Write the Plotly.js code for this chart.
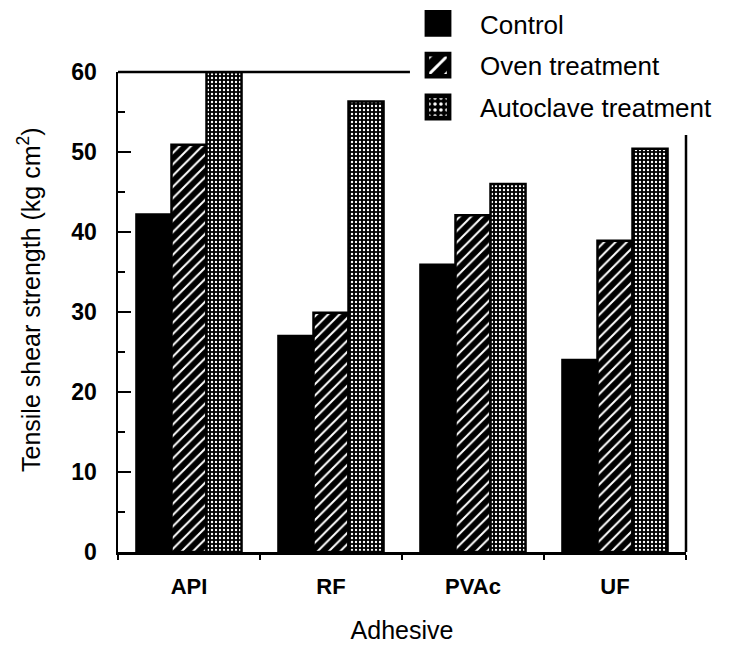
<!DOCTYPE html>
<html>
<head>
<meta charset="utf-8">
<script src="https://cdn.plot.ly/plotly-3.0.1.min.js"></script>
<style>html,body{margin:0;padding:0;background:#fff;}#chart{width:733px;height:648px;}</style>
</head>
<body>
<div id="chart"></div>
<script>
const categories = ["API", "RF", "PVAc", "UF"];
const seriesNames = ["Control", "Oven treatment", "Autoclave treatment"];
const control = [42.2, 27, 35.9, 24];
const oven = [50.9, 29.9, 42.1, 38.9];
const autoclave = [60, 56.3, 46, 50.4];
const yTicks = [0, 10, 20, 30, 40, 50, 60];
const xTitle = "Adhesive";
const yTitle = "Tensile shear strength (kg cm<sup>2</sup>)";

const FONT = "Liberation Sans, Arial, Helvetica, sans-serif";
const line = {color: "black", width: 2.5};

const traces = [
  {type: "bar", name: seriesNames[0], x: categories, y: control, legendgroup: "a",
   marker: {color: "black", line: line}},
  {type: "bar", name: seriesNames[1], x: categories, y: oven, legendgroup: "b",
   marker: {color: "black", line: line,
     pattern: {shape: "/", bgcolor: "black", fgcolor: "white", size: 8, solidity: 0.25, fillmode: "replace"}}},
  {type: "bar", name: seriesNames[2], x: categories, y: autoclave, legendgroup: "c",
   marker: {color: "black", line: line,
     pattern: {shape: ".", bgcolor: "black", fgcolor: "white", size: 4, solidity: 0.28, fillmode: "replace"}}}
];

const layout = {
  width: 733, height: 648,
  margin: {l: 118, r: 47, t: 72, b: 96, autoexpand: false},
  paper_bgcolor: "white", plot_bgcolor: "white",
  font: {family: FONT, color: "black"},
  barmode: "group", bargap: 0.26, bargroupgap: 0,
  showlegend: true,
  legend: {x: (440 - 118) / 568, y: 1.15, xanchor: "left", yanchor: "top", bgcolor: "rgba(0,0,0,0)",
           font: {family: FONT, size: 26, color: "black"}, tracegroupgap: 5, traceorder: "grouped"},
  xaxis: {
    type: "category", range: [-0.5, 3.5], fixedrange: true,
    showline: true, linecolor: "black", linewidth: 2.5, mirror: false,
    ticks: "outside", tickson: "boundaries", ticklen: 5, tickwidth: 2.5, tickcolor: "black",
    tickfont: {family: FONT, size: 22, color: "black", weight: "bold"},
    ticklabelstandoff: 13,
    showgrid: false, zeroline: false,
    title: {text: xTitle, font: {family: FONT, size: 25, color: "black"}, standoff: 24}
  },
  yaxis: {
    range: [0, 60], fixedrange: true, tickvals: yTicks, ticktext: yTicks.map(String),
    showline: true, linecolor: "black", linewidth: 2.5,
    ticks: "inside", ticklen: 13, tickwidth: 2.5, tickcolor: "black",
    minor: {dtick: 5, ticks: "inside", ticklen: 7, tickwidth: 2.5, tickcolor: "black", showgrid: false},
    tickfont: {family: FONT, size: 23, color: "black", weight: "bold"},
    ticklabelstandoff: 14,
    showgrid: false, zeroline: false
  },
  annotations: [
    {text: yTitle, xref: "paper", yref: "paper", x: (29 - 118) / 568, y: (552 - 300) / 480,
     xanchor: "center", yanchor: "middle", textangle: -90, showarrow: false,
     font: {family: FONT, size: 25, color: "black"}}
  ],
  shapes: [
    {type: "line", xref: "paper", yref: "paper", x0: 0, x1: 0.514, y0: 1, y1: 1, line: {color: "black", width: 2.5}},
    {type: "line", xref: "paper", yref: "paper", x0: 1, x1: 1, y0: 0, y1: 0.869, line: {color: "black", width: 2.5}}
  ]
};

Plotly.newPlot("chart", traces, layout, {staticPlot: true, displayModeBar: false}).then(function (gd) {
  gd.querySelectorAll(".legend .scrollbox").forEach(function (s) { s.removeAttribute("clip-path"); });
  gd.querySelectorAll(".legend .legendpoints path").forEach(function (p) {
    const t = p.getAttribute("transform") || "";
    const m = t.match(/translate\(\s*([-\d.]+)[ ,]+([-\d.]+)\s*\)/);
    const tx = m ? parseFloat(m[1]) : 20, ty = m ? parseFloat(m[2]) : 0;
    p.setAttribute("transform", "translate(" + (tx - 22) + "," + ty + ") scale(1.85)");
  });
});
</script>
</body>
</html>
